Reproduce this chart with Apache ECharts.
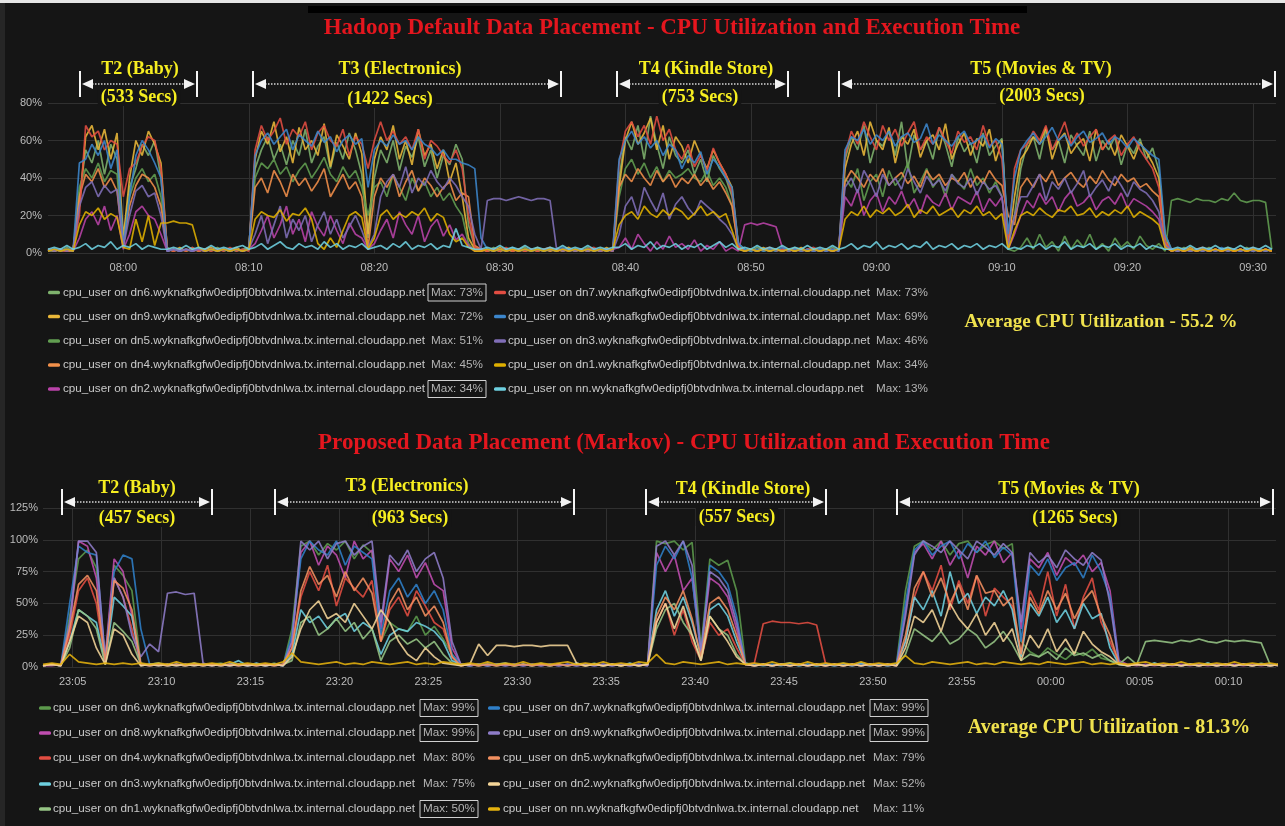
<!DOCTYPE html>
<html><head><meta charset="utf-8">
<script src="https://cdn.jsdelivr.net/npm/echarts/dist/echarts.min.js"></script>
<style>html,body{margin:0;padding:0;background:#151515;overflow:hidden}#c{width:1285px;height:826px}</style>
</head><body><div id="c"></div>
<script>
// ---------------- DATA ----------------
// Top panel: Hadoop default placement, samples every 30 s from 07:54:00
const topHosts = ['dn6','dn9','dn5','dn4','dn2','dn7','dn8','dn3','dn1','nn'];
const topMaxLabels = ['73%','72%','51%','45%','34%','73%','69%','46%','34%','13%'];
const topBoxed = [true,false,false,false,true,false,false,false,false,false];
const top_dn6 = [1,2,1,3,1, 30,55,48,60,42,58,50,5,35,45,58,52,60,40, 3,1,2,1,3,1,2,1,3,1,2,1,2,3, 45,55,62,50,58,47,60,52,66,48,57,62,45,59,50,64,55,42,8,40,55,48,60,44,57,51,62,46,55,40,52,47,58,50,15,3, 2,1,3,1,2,1,2,3,1,2,1,3,1,2,1,2,1,3,1,2,1,2, 40,62,55,68,50,73,58,45,62,52,48,55,42,50,38,52,45,40,30,5, 2,1,3,1,2,1,2,1,3,1,2,1,2,1,3,1, 50,62,55,68,48,60,57,65,52,70,45,63,55,60,50,67,58,46,62,54,59,48,64,52,57,61,5,20,45,58,62,50,66,55,60,48,63,57,52,65,49,60,55,62,47,58,53,61,50,56,44,10, 2,1,3,1,2,1,3,1,2,1,2,1,3,1,2,1,2];
const top_dn9 = [2,1,2,1,2, 25,62,68,55,66,50,64,8,40,60,52,65,58,48, 2,1,3,1,2,1,2,3,1,2,1,3,1,2, 50,65,58,70,54,62,48,67,55,60,52,69,46,63,57,50,64,53,10,50,62,55,68,50,60,47,66,52,58,45,55,38,48,30,8,2, 1,2,1,3,1,2,1,2,1,3,1,2,1,2,3,1,2,1,2,1,3,1, 35,60,70,58,64,72,55,68,50,62,57,48,60,52,45,55,48,42,35,4, 1,2,1,3,1,2,1,2,1,3,1,2,1,2,1,2, 45,58,65,52,70,60,55,67,48,62,58,66,51,60,63,55,69,50,58,64,52,61,57,66,49,60,4,30,50,55,62,58,67,50,60,64,53,58,61,49,66,55,60,52,63,57,50,59,54,48,40,8, 1,2,1,3,1,2,1,2,1,3,1,2,1,2,1,2,1];
const top_dn5 = [1,1,2,1,2, 35,45,40,48,38,44,42,3,30,40,45,38,42,30, 1,2,1,2,1,2,1,2,1,2,1,2,1,2, 40,48,45,50,42,46,38,44,48,40,45,51,42,38,46,40,44,35,20,35,38,30,42,35,28,40,33,38,30,35,28,32,25,20,5,1, 2,1,2,1,2,1,2,1,2,1,2,1,2,1,2,1,2,1,2,1,2,1, 30,45,50,42,48,40,46,38,44,40,42,45,40,38,44,36,40,35,25,3, 1,2,1,2,1,2,1,2,1,2,1,2,1,2,1,2, 40,35,45,28,38,42,30,44,36,40,48,32,38,45,35,40,30,42,38,34,45,36,40,32,38,30,2,1,3,8,2,10,3,6,1,9,2,7,3,10,2,5,1,8,3,6,2,9,4,2,5,1, 28,29,28,27,29,28,28,27,29,28,32,28,27,28,28,27,2];
const top_dn4 = [2,1,2,1,1, 30,42,38,45,35,40,33,4,25,36,42,40,35,25, 1,2,1,2,1,2,1,2,1,2,1,2,1,2, 35,40,32,44,38,30,42,36,40,33,38,45,30,36,42,34,38,30,3,30,40,35,42,30,38,44,33,40,36,30,35,38,28,32,30,4, 2,1,2,1,2,1,2,1,2,1,2,1,2,1,2,1,2,1,2,1,2,1, 35,42,38,45,40,36,44,38,42,35,40,37,42,36,40,34,38,32,25,3, 1,2,1,2,1,2,1,2,1,2,1,2,1,2,1,2, 38,44,40,35,42,38,45,36,40,43,37,41,35,44,39,42,36,40,38,43,35,41,37,44,39,36,20,15,35,40,35,42,38,44,36,40,43,38,35,41,37,44,39,36,42,38,40,35,37,33,30,5, 1,2,1,2,1,2,1,2,1,2,1,2,1,2,1,2,1];
const top_dn2 = [1,2,1,2,1, 8,18,22,15,25,12,20,2,10,22,25,20,18,10, 1,2,1,2,1,2,1,2,1,2,1,2,1,2, 5,12,20,8,15,25,10,18,6,22,14,9,20,12,5,16,10,8,2,5,12,18,8,22,15,10,20,6,14,18,9,15,7,10,4,1, 1,2,1,2,1,2,1,2,1,2,1,2,1,2,1,2,1,2,1,2,1,2, 3,8,2,10,5,1,6,2,9,3,5,2,7,1,4,2,6,1,3,1, 15,16,15,16,15,14,3,1,2,1,2,1,2,1,2,1, 30,25,34,20,28,32,22,30,26,33,24,29,21,31,27,25,32,23,30,28,26,33,22,29,25,30,2,10,20,28,24,32,26,30,22,29,33,25,27,31,23,28,30,26,32,24,29,27,25,22,18,3, 1,2,1,2,1,2,1,2,1,2,1,2,1,2,1,2,1];
const top_dn7 = [1,2,1,1,2, 20,68,62,65,55,60,58,30,45,48,57,62,60,45, 2,1,2,1,3,1,2,1,2,1,3,1,2,1, 55,68,60,65,72,58,66,62,70,55,64,68,60,57,66,52,62,58,45,60,70,60,65,58,62,55,66,50,60,57,52,48,55,45,20,3, 2,1,2,1,3,1,2,1,2,1,2,3,1,2,1,2,1,2,3,1,2,1, 48,65,70,62,68,58,73,60,66,55,50,58,46,52,44,56,48,42,32,3, 1,2,1,2,3,1,2,1,2,1,2,3,1,2,1,2, 52,65,58,70,62,55,68,60,66,57,64,70,55,62,58,67,60,53,65,59,62,55,68,57,60,50,6,45,55,58,65,60,68,55,62,70,58,64,57,62,66,55,60,63,52,58,62,55,50,45,35,6, 2,1,2,1,2,3,1,2,1,2,1,2,1,3,1,2,1];
const top_dn8 = [1,2,1,2,1, 48,50,58,52,60,45,55,4,30,52,60,55,48,40, 1,2,1,2,1,3,1,2,1,2,1,2,1,2, 52,60,64,58,62,66,55,63,60,57,65,59,62,54,60,63,58,61,35,55,60,57,63,58,60,55,62,58,56,52,55,50,50,48,47,45, 8,2,1,2,1,3,1,2,1,2,1,2,1,3,1,2,1,2,1,2,1,2, 50,60,65,58,62,56,60,52,58,55,45,52,48,54,42,50,46,40,35,5, 2,1,2,1,2,1,3,1,2,1,2,1,2,1,2,1, 55,62,60,66,58,63,60,65,57,62,64,59,61,69,58,63,60,57,62,65,58,60,63,56,61,58,10,40,55,60,64,58,62,67,60,63,57,62,65,59,61,64,58,62,60,56,61,58,55,52,50,10, 2,1,2,1,2,1,2,1,3,1,2,1,2,1,2,1,2];
const top_dn3 = [2,1,2,1,2, 25,35,38,30,36,32,34,3,20,33,36,30,32,20, 1,2,1,2,1,2,1,2,1,2,1,2,1,2, 10,20,5,15,25,8,18,12,20,6,15,22,10,18,8,14,20,12,3,10,30,38,42,35,46,32,40,36,44,38,34,40,36,30,25,10, 2,28,29,29,28,29,30,29,28,29,29,28,3,1,2,1,2,1,2,1,2,1, 10,25,30,20,35,28,22,32,18,26,30,24,20,28,25,22,18,15,10,2, 1,2,1,2,1,2,1,2,1,2,1,2,1,2,1,2, 35,40,32,44,38,30,42,36,40,34,45,38,32,41,36,39,33,42,37,35,40,31,38,34,36,30,3,20,30,30,36,42,28,38,34,40,32,37,44,30,35,39,33,41,36,30,38,34,32,28,22,4, 2,1,2,1,2,1,2,1,2,1,2,1,2,1,2,1,2];
const top_dn1 = [1,2,1,2,1, 15,22,20,24,18,21,19,3,2,18,6,20,4,16, 16,17,16,16,15,3,1,2,1,2,1,2,1,2, 18,22,20,19,23,17,21,20,24,18,5,2,8,3,12,20,22,19,2,8,20,23,18,21,19,22,20,24,17,21,19,10,6,8,3,1, 1,2,1,2,1,2,1,2,1,2,1,2,1,2,1,2,1,2,1,2,1,2, 15,20,22,18,25,21,19,23,20,24,22,18,21,25,20,22,19,21,12,2, 1,2,1,2,1,2,1,2,1,2,1,2,1,2,1,2, 18,22,20,25,19,23,21,24,20,22,26,19,23,21,25,20,22,24,19,23,21,25,20,22,18,21,2,12,20,22,20,24,21,19,23,22,25,20,21,24,19,22,20,23,21,25,19,22,20,18,15,3, 1,2,1,2,1,2,1,2,1,2,1,2,1,2,1,2,1];
const top_nn = [2,3,2,4,2, 3,5,2,4,3,6,2,4,3,5,2,4,3,2, 2,3,2,4,2,3,2,4,2,3,2,3,4,2, 3,5,2,4,6,3,2,5,3,4,2,6,3,5,2,4,3,5,2,3,4,2,5,3,6,2,4,3,5,2,4,3,13,4,3,2, 2,3,2,4,2,3,2,4,2,3,2,3,2,4,2,3,2,4,2,3,2,3, 3,5,2,4,3,6,2,4,3,5,2,4,3,5,2,4,6,3,5,2, 3,2,4,2,3,2,4,2,3,2,4,2,3,2,4,2, 3,5,2,4,3,6,2,4,3,5,2,4,3,6,2,4,3,5,2,4,3,5,2,4,3,5,2,3,2,4,3,5,2,4,3,6,2,4,3,5,2,4,3,5,2,4,3,5,2,4,3,2, 2,3,2,4,2,3,2,4,2,3,2,4,2,3,2,4,2];

// Bottom panel: proposed (Markov) placement, samples every 30 s from 23:03:20
const botHosts = ['dn6','dn8','dn4','dn3','dn1','dn7','dn9','dn5','dn2','nn'];
const botMaxLabels = ['99%','99%','80%','75%','50%','99%','99%','79%','52%','11%'];
const botBoxed = [true,true,false,false,true,true,true,false,false,false];
const bot_dn6 = [1,2,1, 40,85,92,78,5,80,72,60, 3,1,2,1,2,1,2,1,2,3,1,2,1,2,1,3,1, 30,95,99,88,97,92,99,85,96,90,20,35,30,28,40,25,32,22,10,2, 2,1,3,1,2,1,2,1,3,1,2,1,2,1,3,1,2,1,2,1,3, 99,97,99,92,98,15,85,80,84,60,3, 2,1,2,1,3,1,2,1,2,1,3,1,2,1,2,1,3, 60,95,99,92,99,88,97,99,90,96,99,93,97,20,12,8,15,10,6,12,9,14,7,5,2, 1,2,1,3,1,2,1,2,1,3,1,2,1,2,1,3,1,2];
const bot_dn8 = [1,1,2, 30,99,95,70,8,85,75,40, 2,1,2,1,2,1,2,1,2,1,2,1,2,1,2,1,2, 20,90,99,80,95,88,70,99,85,92,30,85,75,88,70,82,65,60,15,2, 1,2,1,2,1,2,1,2,1,2,1,2,1,2,1,2,1,2,1,2,1, 90,75,88,60,70,10,70,65,55,30,2, 1,2,1,2,1,2,1,2,1,2,1,2,1,2,1,2,1, 45,90,97,85,99,80,92,70,95,88,99,82,90,30,85,78,90,72,86,80,88,75,82,60,5, 2,1,2,1,2,1,2,1,2,1,2,1,2,1,2,1,2,1];
const bot_dn4 = [1,2,1, 25,60,70,50,3,70,55,30, 1,2,1,2,1,2,1,2,1,2,1,2,1,2,1,2,1, 15,55,75,60,80,48,70,62,55,68,20,45,55,40,60,48,35,30,8,1, 2,1,2,1,2,1,2,1,2,1,2,1,2,1,2,1,2,1,2,1,2, 35,50,25,45,20,5,35,25,30,15,2, 3,34,36,35,35,34,35,33,3,1,2,1,2,1,2,1,2, 20,55,75,60,80,45,68,50,72,40,62,55,48,10,60,45,75,40,65,30,55,70,35,20,3, 1,2,1,2,1,2,1,2,1,2,1,2,1,2,1,2,1,2];
const bot_dn3 = [1,2,1, 20,45,40,35,3,55,48,40, 1,2,3,1,2,1,3,1,2,1,2,5,1,3,1,2,1, 10,45,35,40,30,38,42,28,35,30,10,25,30,28,35,32,28,20,5,2, 1,2,1,2,3,1,2,1,2,1,2,1,3,1,2,1,2,1,3,1,2, 45,60,40,55,35,8,45,50,40,20,3, 1,2,1,2,3,1,2,1,2,1,2,1,3,1,2,1,2, 20,55,45,60,40,75,50,58,42,55,48,60,45,8,50,40,55,35,45,30,50,38,42,15,2, 1,2,1,3,1,2,1,2,1,3,1,2,1,2,1,2,1,2];
const bot_dn1 = [1,2,1, 15,45,40,30,2,35,28,20, 2,1,2,1,2,1,2,1,2,1,2,1,2,1,2,1,2, 5,35,40,25,30,38,28,35,22,30,5,20,25,18,22,15,20,10,3,1, 2,1,2,1,2,1,2,1,2,1,2,1,2,1,2,1,2,1,2,1,2, 30,45,50,35,25,5,40,30,25,10,2, 1,2,1,2,1,2,1,2,1,2,1,2,1,2,1,2,1, 10,30,25,20,28,18,22,30,25,15,20,28,18,5,10,8,12,6,15,9,11,7,10,5,2, 8,2,20,21,20,19,21,20,22,20,19,21,20,21,20,19,2,1];
const bot_dn7 = [1,2,1, 50,95,90,88,5,75,88,85, 30,2,1,2,1,2,1,2,1,2,1,2,1,2,1,2,1, 25,85,99,92,88,99,80,95,90,85,25,60,70,55,65,50,60,45,10,2, 1,2,1,2,1,2,1,2,1,2,1,2,1,2,1,2,1,2,1,2,1, 80,95,85,99,70,10,80,75,65,40,2, 2,1,2,1,2,1,2,1,2,1,2,1,2,1,2,1,2, 50,92,99,88,95,99,85,97,90,99,86,94,88,20,80,72,85,68,78,82,70,88,75,55,4, 1,2,1,2,1,2,1,2,1,2,1,2,1,2,1,2,1,2];
const bot_dn9 = [1,2,1, 35,99,99,90,6,70,55,25, 8,18,12,58,59,57,58,3,1,2,1,2,1,2,1,2,1, 20,99,92,99,85,97,99,88,95,99,35,88,80,92,75,85,90,70,20,2, 1,2,1,2,1,2,1,2,1,2,1,2,1,2,1,2,1,2,1,2,1, 95,99,88,99,80,12,75,70,60,35,2, 1,2,1,2,1,2,1,2,1,2,1,2,1,2,1,2,1, 40,88,99,95,90,99,92,85,99,94,88,97,90,35,90,82,88,78,92,85,80,90,84,50,3, 1,2,1,2,1,2,1,2,1,2,1,2,1,2,1,2,1,2];
const bot_dn5 = [1,2,1, 30,65,72,60,4,68,62,45, 2,1,2,1,2,1,2,1,2,1,2,1,2,1,2,1,2, 15,60,79,65,72,55,75,60,70,58,20,50,62,45,55,40,48,35,8,1, 2,1,2,1,2,1,2,1,2,1,2,1,2,1,2,1,2,1,2,1,2, 40,55,45,60,38,8,50,55,45,25,2, 1,2,1,2,1,2,1,2,1,2,1,2,1,2,1,2,1, 25,62,75,55,70,50,65,45,72,58,60,48,55,10,55,42,60,45,58,38,52,60,40,25,3, 1,2,1,2,1,2,1,2,1,2,1,2,1,2,1,2,1,2];
const bot_dn2 = [1,2,1, 20,40,35,15,2,30,25,10, 1,2,1,2,1,2,1,2,1,2,1,2,1,2,1,2,1, 8,30,45,52,38,42,35,50,40,30,45,35,20,10,5,15,8,3,2,1, 2,18,9,17,17,16,17,17,16,17,17,17,3,1,2,1,2,1,2,1,2, 35,50,30,48,25,5,40,30,20,8,2, 1,2,1,2,1,2,1,2,1,2,1,2,1,2,1,2,1, 15,40,35,45,28,50,38,30,42,25,35,20,30,5,25,15,30,12,22,10,28,18,12,8,2, 1,2,1,2,1,2,1,2,1,2,1,2,1,2,1,2,1,2];
const bot_nn = [2,3,2, 10,4,3,2,3,2,3,2, 3,2,3,2,4,2,3,2,3,2,4,2,3,2,3,2,4, 11,4,3,2,3,4,2,3,2,4,3,2,3,4,2,3,2,4,3,2, 3,2,4,2,3,2,4,2,3,2,3,4,2,3,2,4,2,3,2,4,3, 10,3,2,4,3,2,3,4,2,3,2, 3,2,4,2,3,2,4,2,3,2,3,2,4,2,3,2,3, 9,3,2,4,3,2,3,4,2,3,2,4,3,2,3,2,4,3,2,3,4,2,3,2,3, 2,3,4,2,3,2,4,2,3,2,3,2,4,2,3,2,3,2];

const topValues = [top_dn6,top_dn9,top_dn5,top_dn4,top_dn2,top_dn7,top_dn8,top_dn3,top_dn1,top_nn];
const botValues = [bot_dn6,bot_dn8,bot_dn4,bot_dn3,bot_dn1,bot_dn7,bot_dn9,bot_dn5,bot_dn2,bot_nn];
const topYTicks = [0,20,40,60,80];
const botYTicks = [0,25,50,75,100,125];
const topXTicks = ['08:00','08:10','08:20','08:30','08:40','08:50','09:00','09:10','09:20','09:30'];
const botXTicks = ['23:05','23:10','23:15','23:20','23:25','23:30','23:35','23:40','23:45','23:50','23:55','00:00','00:05','00:10'];

// ---------------- TIME GRID ----------------
const STEP = 30000;
const topStart = Date.UTC(2020,0,1,7,54,0);
const topMin = Date.UTC(2020,0,1,7,54,0), topMax = Date.UTC(2020,0,1,9,31,50);
const botStart = Date.UTC(2020,0,1,23,3,20);
const botMin = Date.UTC(2020,0,1,23,3,20), botMax = Date.UTC(2020,0,2,0,12,40);
const toTs = s => { const h = +s.slice(0,2); return Date.UTC(2020,0,h<12 && h<3 ? 2 : 1,h,+s.slice(3,5),0); };
const topTickTs = topXTicks.map(s => Date.UTC(2020,0,1,+s.slice(0,2),+s.slice(3,5),0));
const botTickTs = botXTicks.map(toTs);

topValues.forEach((a,k)=>{ if(a.length!==196) throw new Error('top '+topHosts[k]+' len '+a.length); });
botValues.forEach((a,k)=>{ if(a.length!==140) throw new Error('bot '+botHosts[k]+' len '+a.length); });

// ---------------- STYLE ----------------
const BG = '#151515';
const topColors = ['#7EB26D','#EAB839','#629E51','#F2904A','#BA43A9','#E24D42','#3C86CC','#806EB7','#E0B000','#6ED0E0'];
const botColors = ['#5C9A4C','#C04DB0','#E24D42','#6ED0E0','#96C585','#2F7FC8','#8E7CC8','#F29060','#F4D598','#E5B20E'];
const domain = '.wyknafkgfw0edipfj0btvdnlwa.tx.internal.cloudapp.net';
const pad2 = n => (n<10?'0':'')+n;
const fmtHM = v => { const d = new Date(v); return pad2(d.getUTCHours())+':'+pad2(d.getUTCMinutes()); };

function mkSeries(values, start, colors, xi) {
  return values.map((arr,k)=>({
    type:'line', xAxisIndex:xi, yAxisIndex:xi, silent:true, animation:false,
    showSymbol:false, symbol:'none', clip:true,
    data: arr.map((v,i)=>[start + i*STEP, v]),
    lineStyle:{width:1.7, color:colors[k], opacity:0.88},
    itemStyle:{color:colors[k]}
  }));
}

const axisLabelStyle = {color:'#bcbcbc', fontSize:11, fontFamily:'"Liberation Sans", Arial, sans-serif'};
const gridLine = {show:true, lineStyle:{color:'#303030', width:1}};

function xAx(gi, min, max, ticks, margin){
  return {gridIndex:gi, type:'value', min, max, scale:true,
    axisLine:{show:false}, axisTick:{show:false, customValues:ticks},
    axisLabel:Object.assign({margin, formatter:fmtHM, customValues:ticks, hideOverlap:false}, axisLabelStyle),
    splitLine:gridLine};
}
function yAx(gi, ticks, margin){
  return {gridIndex:gi, type:'value', min:ticks[0], max:ticks[ticks.length-1], interval:ticks[1]-ticks[0],
    axisLine:{show:false}, axisTick:{show:false},
    axisLabel:Object.assign({margin, formatter:'{value}%'}, axisLabelStyle),
    splitLine:gridLine};
}

// ---------------- OVERLAY GRAPHICS ----------------
const g = [];
const serifBold = sz => 'bold '+sz+'px "Liberation Serif", "Times New Roman", serif';
function text(x,y,t,font,fill,extra){ g.push({type:'text', x, y, z:100, silent:true, style:Object.assign({text:t, font, fill, align:'center', verticalAlign:'middle'}, extra||{})}); }
function span(x1,x2,y,h){
  g.push({type:'line', z:99, silent:true, shape:{x1:x1+12,y1:y,x2:x2-12,y2:y}, style:{stroke:'#d8d8d8', lineWidth:1.6, lineDash:[1.5,1.5]}});
  g.push({type:'polygon', z:100, silent:true, shape:{points:[[x1+2,y],[x1+13,y-5],[x1+13,y+5]]}, style:{fill:'#f2f2f2'}});
  g.push({type:'polygon', z:100, silent:true, shape:{points:[[x2-2,y],[x2-13,y-5],[x2-13,y+5]]}, style:{fill:'#f2f2f2'}});
  g.push({type:'line', z:100, silent:true, shape:{x1:x1,y1:y-h/2,x2:x1,y2:y+h/2}, style:{stroke:'#f4f4f4', lineWidth:2}});
  g.push({type:'line', z:100, silent:true, shape:{x1:x2,y1:y-h/2,x2:x2,y2:y+h/2}, style:{stroke:'#f4f4f4', lineWidth:2}});
}
// frame details
g.push({type:'rect', z:90, silent:true, shape:{x:0,y:0,width:1285,height:3}, style:{fill:'#e6e6e6'}});
g.push({type:'rect', z:90, silent:true, shape:{x:0,y:3,width:5,height:823}, style:{fill:'#262626'}});
g.push({type:'rect', z:90, silent:true, shape:{x:308,y:6,width:719,height:7}, style:{fill:'#000'}});

// titles
text(672, 28, 'Hadoop Default Data Placement - CPU Utilization and Execution Time', serifBold(23), '#E4161E');
text(684, 443, 'Proposed Data Placement (Markov) - CPU Utilization and Execution Time', serifBold(23), '#E4161E');

const YEL = '#F6EE20';
const lblBg = {backgroundColor:BG, padding:[0,3]};
// top annotations
span(80,197,84,26);  text(140,69,'T2 (Baby)',serifBold(18),YEL); text(139,97,'(533 Secs)',serifBold(18),YEL,lblBg);
span(253,561,84,26); text(400,69,'T3 (Electronics)',serifBold(18),YEL); text(390,99,'(1422 Secs)',serifBold(18),YEL,lblBg);
span(617,788,84,26); text(706,69,'T4 (Kindle Store)',serifBold(18),YEL); text(700,97,'(753 Secs)',serifBold(18),YEL,lblBg);
span(839,1275,84,26); text(1041,69,'T5 (Movies & TV)',serifBold(18),YEL); text(1042,96,'(2003 Secs)',serifBold(18),YEL,lblBg);
// bottom annotations
span(62,212,502,26);  text(137,488,'T2 (Baby)',serifBold(18),YEL); text(137,518,'(457 Secs)',serifBold(18),YEL,lblBg);
span(275,574,502,26); text(407,486,'T3 (Electronics)',serifBold(18),YEL); text(410,518,'(963 Secs)',serifBold(18),YEL,lblBg);
span(646,826,502,26); text(743,489,'T4 (Kindle Store)',serifBold(18),YEL); text(737,517,'(557 Secs)',serifBold(18),YEL,lblBg);
span(897,1273,502,26); text(1069,489,'T5 (Movies & TV)',serifBold(18),YEL); text(1075,518,'(1265 Secs)',serifBold(18),YEL,lblBg);

// averages
text(1101, 322, 'Average CPU Utilization - 55.2 %', serifBold(19), '#F0E24E');
text(1109, 728, 'Average CPU Utilization - 81.3%', serifBold(20), '#F0E24E');

// legends
const legFont = '11.7px "Liberation Sans", Arial, sans-serif';
function legend(hosts, maxes, boxed, colors, rows, cols){
  hosts.forEach((h,k)=>{
    const c = cols[Math.floor(k/5)], y = rows[k%5];
    g.push({type:'rect', z:100, silent:true, shape:{x:c.sw, y:y-1.7, width:12, height:3.4, r:1.5}, style:{fill:colors[k]}});
    g.push({type:'text', z:100, silent:true, x:c.tx, y, style:{text:'cpu_user on '+h+domain, font:legFont, fill:'#c9c9c9', align:'left', verticalAlign:'middle'}});
    g.push({type:'text', z:100, silent:true, x:c.mx, y, style:{text:'Max: '+maxes[k], font:legFont, fill:'#b4b4b4', align:'left', verticalAlign:'middle'}});
    if (boxed[k]) g.push({type:'rect', z:100, silent:true, shape:{x:c.mx-3, y:y-8.5, width:58, height:17}, style:{fill:'none', stroke:'#d0d0d0', lineWidth:1}});
  });
}
legend(topHosts, topMaxLabels, topBoxed, topColors, [292.5,316.5,341,365,389], [{sw:48,tx:63,mx:431},{sw:494,tx:508,mx:876}]);
legend(botHosts, botMaxLabels, botBoxed, botColors, [708,733,758,784,809], [{sw:39,tx:53,mx:423},{sw:488,tx:503,mx:873}]);

// ---------------- CHART ----------------
const chart = echarts.init(document.getElementById('c'), null, {renderer:'canvas'});
chart.setOption({
  backgroundColor: BG,
  animation: false,
  grid: [
    {left:48, top:103, width:1228, height:150},
    {left:43, top:508, width:1233, height:159}
  ],
  xAxis: [ xAx(0, topMin, topMax, topTickTs, 9), xAx(1, botMin, botMax, botTickTs, 9) ],
  yAxis: [ yAx(0, topYTicks, 6), yAx(1, botYTicks, 5) ],
  series: mkSeries(topValues, topStart, topColors, 0).concat(mkSeries(botValues, botStart, botColors, 1)),
  graphic: g
});
</script></body></html>
